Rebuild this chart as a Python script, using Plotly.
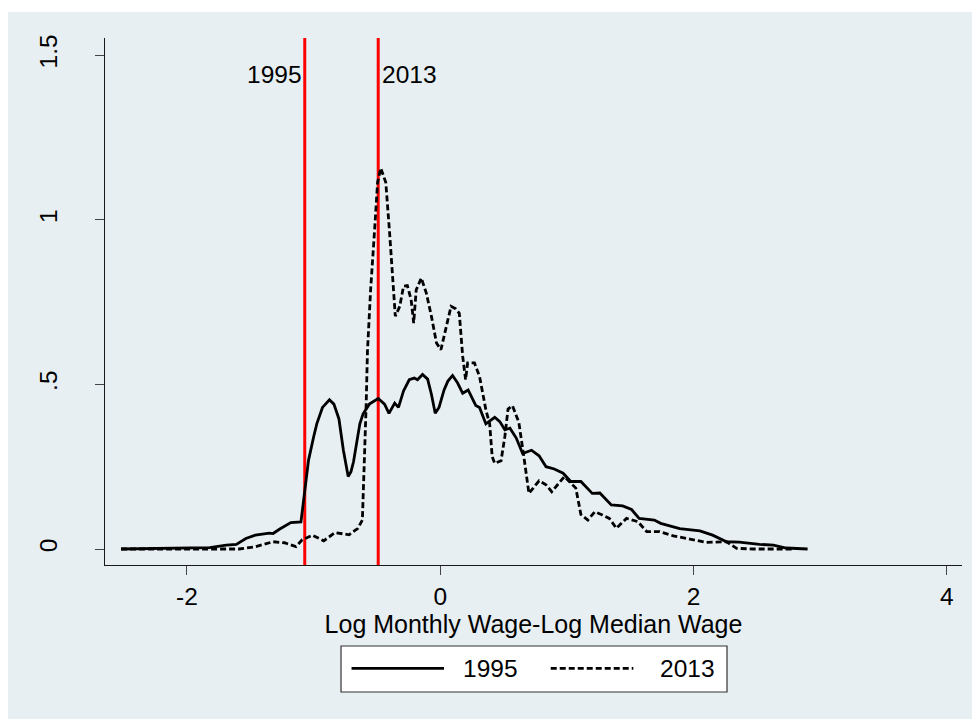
import plotly.graph_objects as go

# Kernel density of log monthly wage relative to the log median wage
x_1995 = [-2.52, -2.20, -1.82, -1.69, -1.61, -1.535, -1.46, -1.35, -1.32, -1.27, -1.18,
          -1.10, -1.07, -1.04, -1.00, -0.975, -0.93, -0.875, -0.84, -0.80, -0.765, -0.727,
          -0.705, -0.685, -0.635, -0.61, -0.56, -0.49, -0.44, -0.405, -0.36, -0.33, -0.29,
          -0.245, -0.205, -0.18, -0.14, -0.10, -0.07, -0.04, -0.01, 0.03, 0.06, 0.097,
          0.137, 0.177, 0.22, 0.25, 0.28, 0.31, 0.36, 0.43, 0.47, 0.51, 0.55, 0.60, 0.65,
          0.72, 0.78, 0.835, 0.90, 0.97, 1.03, 1.11, 1.20, 1.26, 1.35, 1.44, 1.51, 1.57,
          1.69, 1.74, 1.89, 2.05, 2.15, 2.26, 2.36, 2.52, 2.63, 2.73, 2.90]
y_1995 = [0.0, 0.001, 0.004, 0.012, 0.014, 0.032, 0.042, 0.048, 0.047, 0.06, 0.08,
          0.082, 0.17, 0.27, 0.34, 0.38, 0.43, 0.453, 0.44, 0.395, 0.30, 0.22,
          0.235, 0.265, 0.38, 0.41, 0.44, 0.457, 0.44, 0.412, 0.443, 0.43, 0.48,
          0.514, 0.519, 0.514, 0.53, 0.516, 0.47, 0.412, 0.43, 0.483, 0.51, 0.527,
          0.504, 0.473, 0.483, 0.46, 0.436, 0.43, 0.38, 0.40, 0.387, 0.362, 0.367, 0.337, 0.29,
          0.30, 0.283, 0.25, 0.243, 0.23, 0.205, 0.205, 0.169, 0.17, 0.134, 0.131, 0.12, 0.093,
          0.088, 0.078, 0.062, 0.055, 0.042, 0.022, 0.021, 0.014, 0.012, 0.003, 0.0]

x_2013 = [-2.52, -1.82, -1.69, -1.59, -1.46, -1.32, -1.23, -1.14, -1.09, -1.01, -0.92,
          -0.83, -0.72, -0.65, -0.615, -0.60, -0.585, -0.575, -0.55, -0.52, -0.495, -0.47,
          -0.43, -0.40, -0.375, -0.355, -0.32, -0.29, -0.26, -0.23, -0.21, -0.19, -0.15,
          -0.11, -0.07, -0.03, 0.005, 0.03, 0.085, 0.12, 0.15, 0.177, 0.20, 0.216, 0.27,
          0.31, 0.36, 0.39, 0.41, 0.43, 0.48, 0.51, 0.535, 0.57, 0.62, 0.66, 0.70, 0.78,
          0.835, 0.88, 0.98, 1.07, 1.11, 1.165, 1.22, 1.28, 1.335, 1.39, 1.47, 1.56, 1.63,
          1.73, 1.84, 1.97, 2.10, 2.26, 2.34, 2.47, 2.78]
y_2013 = [0.0, 0.0, 0.002, 0.0, 0.007, 0.022, 0.019, 0.007, 0.028, 0.042, 0.025,
          0.05, 0.043, 0.063, 0.088, 0.24, 0.44, 0.60, 0.787, 0.96, 1.113, 1.157,
          1.113, 0.96, 0.808, 0.707, 0.737, 0.798, 0.80, 0.757, 0.686, 0.787, 0.823,
          0.777, 0.707, 0.626, 0.605, 0.645, 0.737, 0.73, 0.716, 0.585, 0.514, 0.565, 0.565,
          0.524, 0.423, 0.38, 0.28, 0.26, 0.268, 0.342, 0.425, 0.435, 0.385, 0.28, 0.169, 0.207,
          0.195, 0.174, 0.22, 0.185, 0.105, 0.088, 0.113, 0.103, 0.093, 0.063, 0.093, 0.083, 0.053,
          0.053, 0.04, 0.03, 0.02, 0.022, 0.002, 0.0, 0.0]

# Log minimum wage relative to the median, by year
ref_years = ["1995", "2013"]
ref_values = [-1.07, -0.49]

x_ticks = [-2, 0, 2, 4]
y_ticks = [0, 0.5, 1, 1.5]
y_tick_text = ["0", ".5", "1", "1.5"]
y_grid = [0, 0.5, 1]

FONT = "Liberation Sans, Arial, sans-serif"
FS = 24.5
BG = "#e8eff2"
DASH = "6px,3px"

fig = go.Figure()
fig.add_trace(go.Scatter(x=x_1995, y=y_1995, mode="lines", name="1995",
                         line=dict(color="black", width=2.8), showlegend=False))
fig.add_trace(go.Scatter(x=x_2013, y=y_2013, mode="lines", name="2013",
                         line=dict(color="black", width=2.8, dash=DASH), showlegend=False))

shapes = []
# light outer graph region
shapes.append(dict(type="rect", xref="paper", yref="paper", x0=-0.1132, x1=1.02,
                   y0=-0.31, y1=1.0493, fillcolor=BG, line=dict(width=0), layer="below"))
for g in y_grid:
    shapes.append(dict(type="line", xref="paper", yref="y", x0=0, x1=1, y0=g, y1=g,
                       line=dict(color=BG, width=2), layer="below"))
for v in ref_values:
    shapes.append(dict(type="line", xref="x", yref="paper", x0=v, x1=v, y0=0, y1=1,
                       line=dict(color="#ff0000", width=3), layer="below"))

annotations = [
    dict(x=ref_values[0], y=1.44, xref="x", yref="y", text=ref_years[0], showarrow=False,
         xanchor="right", yanchor="middle", xshift=-1, font=dict(family=FONT, size=FS, color="black")),
    dict(x=ref_values[1], y=1.44, xref="x", yref="y", text=ref_years[1], showarrow=False,
         xanchor="left", yanchor="middle", xshift=2, font=dict(family=FONT, size=FS, color="black")),
]

# legend box below the axis title
lx0, lx1, ly0, ly1 = 0.2754, 0.7258, -0.241, -0.1537
ly = -0.196
shapes.append(dict(type="rect", xref="paper", yref="paper", x0=lx0, x1=lx1, y0=ly0, y1=ly1,
                   fillcolor="white", line=dict(color="#333333", width=1.2), layer="above"))
shapes.append(dict(type="line", xref="paper", yref="paper", x0=0.2877, x1=0.3956, y0=ly, y1=ly,
                   line=dict(color="black", width=2.8), layer="above"))
shapes.append(dict(type="line", xref="paper", yref="paper", x0=0.5201, x1=0.6165, y0=ly, y1=ly,
                   line=dict(color="black", width=2.8, dash=DASH), layer="above"))
for lab, px in zip(["1995", "2013"], [0.415, 0.6456]):
    annotations.append(dict(x=px, y=ly, xref="paper", yref="paper", text=lab, showarrow=False,
                            xanchor="left", yanchor="middle",
                            font=dict(family=FONT, size=FS, color="black")))

fig.update_layout(
    width=972, height=719,
    margin=dict(l=105, r=10, t=38, b=154, pad=0),
    paper_bgcolor="white", plot_bgcolor="white",
    font=dict(family=FONT, size=FS, color="black"),
    shapes=shapes, annotations=annotations,
    showlegend=False,
    xaxis=dict(range=[-2.647, 4.119], tickvals=x_ticks, ticktext=[str(t) for t in x_ticks],
               showgrid=False, zeroline=False, showline=True, linecolor="#1a1a1a", linewidth=1.3,
               ticks="outside", ticklen=9, tickwidth=1.3, tickcolor="#444444",
               tickfont=dict(family=FONT, size=FS, color="black"),
               title=dict(text="Log Monthly Wage-Log Median Wage", standoff=0,
                          font=dict(family=FONT, size=25, color="black"))),
    yaxis=dict(range=[-0.0486, 1.552], tickvals=y_ticks, ticktext=y_tick_text,
               showgrid=False, zeroline=False, showline=True, linecolor="#1a1a1a", linewidth=1.3,
               ticks="outside", ticklen=9, tickwidth=1.3, tickcolor="#444444", tickangle=-90,
               ticklabelstandoff=28,
               tickfont=dict(family=FONT, size=FS, color="black")),
)

fig.write_html("out.html")
